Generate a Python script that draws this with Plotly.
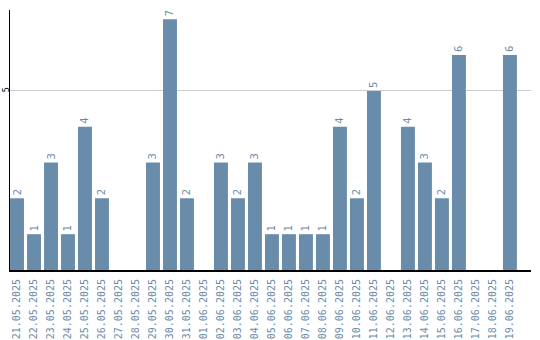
import plotly.graph_objects as go

dates = ["21.05.2025", "22.05.2025", "23.05.2025", "24.05.2025", "25.05.2025",
         "26.05.2025", "27.05.2025", "28.05.2025", "29.05.2025", "30.05.2025",
         "31.05.2025", "01.06.2025", "02.06.2025", "03.06.2025", "04.06.2025",
         "05.06.2025", "06.06.2025", "07.06.2025", "08.06.2025", "09.06.2025",
         "10.06.2025", "11.06.2025", "12.06.2025", "13.06.2025", "14.06.2025",
         "15.06.2025", "16.06.2025", "17.06.2025", "18.06.2025", "19.06.2025"]
counts = [2, 1, 3, 1, 4, 2, 0, 0, 3, 7, 2, 0, 3, 2, 3, 1, 1, 1, 1, 4,
          2, 5, 0, 4, 3, 2, 6, 0, 0, 6]

bar_color = "#6a8cab"
labels = [str(v) if v else "" for v in counts]

fig = go.Figure(go.Bar(
    x=dates, y=counts, marker_color=bar_color, marker_line_width=0,
    text=labels, textposition="outside", textangle=-90,
    textfont=dict(size=10, color=bar_color, family="DejaVu Sans"),
    cliponaxis=False, hoverinfo="skip",
))

fig.update_layout(
    width=540, height=340,
    margin=dict(l=10, r=9, t=10, b=70),
    paper_bgcolor="white", plot_bgcolor="white",
    bargap=0.18, showlegend=False,
    font=dict(family="DejaVu Sans"),
)
fig.update_xaxes(
    type="category", range=[-0.412, 30.24], automargin=False,
    showline=True, linecolor="black", linewidth=2,
    ticks="", tickangle=-90, ticklabelstandoff=3,
    tickfont=dict(size=10, color=bar_color, family="DejaVu Sans Mono"),
    showgrid=False,
)
fig.update_yaxes(
    range=[0, 7.26], tickvals=[5], ticktext=["5"], automargin=False,
    showline=True, linecolor="black", linewidth=1,
    showgrid=True, gridcolor="#cccccc", gridwidth=1,
    zeroline=False, ticks="", tickangle=-90, ticklabelstandoff=-3,
    tickfont=dict(size=8, color="black"),
)

fig.write_html("out.html")
